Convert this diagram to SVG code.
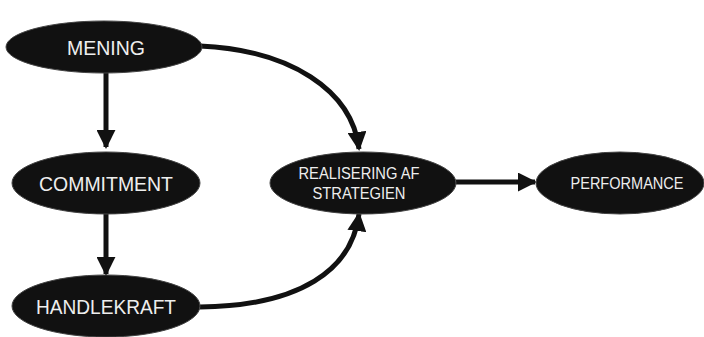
<svg xmlns="http://www.w3.org/2000/svg" width="704" height="337" viewBox="0 0 704 337">
<defs>
<style>
.node{fill:#111;stroke:#444;stroke-width:1}
.t{fill:#eee;font-family:"Liberation Sans",Arial,sans-serif;text-anchor:middle;dominant-baseline:central}
.big{font-size:21px}
.sm{font-size:16.5px}
.c{fill:none;stroke:#111;stroke-width:5}
</style>
<marker id="ah" viewBox="0 0 10 10" refX="9" refY="5" markerWidth="3.8" markerHeight="3.8" orient="auto" markerUnits="strokeWidth">
<path d="M0,0 L10,5 L0,10 Z" fill="#111"/>
</marker>
</defs>
<rect width="704" height="337" fill="#fff"/>
<g id="connectors">
<path class="c" d="M106,72 L106,147" marker-end="url(#ah)"/>
<path class="c" d="M106,213 L106,274" marker-end="url(#ah)"/>
<path class="c" d="M200,46 C290,50 352,90 359,149" marker-end="url(#ah)"/>
<path class="c" d="M200,307 C300,306 352,270 359,214" marker-end="url(#ah)"/>
<path class="c" d="M456,182 L535,182" marker-end="url(#ah)"/>
</g>
<g id="mening"><ellipse class="node" cx="104" cy="47" rx="98" ry="26"/><text class="t big" x="106" y="47" textLength="78" lengthAdjust="spacingAndGlyphs">MENING</text></g>
<g id="commitment"><ellipse class="node" cx="106" cy="183" rx="94" ry="31"/><text class="t big" x="106" y="183" textLength="134" lengthAdjust="spacingAndGlyphs">COMMITMENT</text></g>
<g id="handlekraft"><ellipse class="node" cx="106" cy="306" rx="94" ry="31"/><text class="t big" x="106" y="306" textLength="140" lengthAdjust="spacingAndGlyphs">HANDLEKRAFT</text></g>
<g id="realisering"><ellipse class="node" cx="363" cy="183" rx="93" ry="31"/><text class="t sm" x="359" y="173" textLength="121" lengthAdjust="spacingAndGlyphs">REALISERING AF</text><text class="t sm" x="359" y="193" textLength="93" lengthAdjust="spacingAndGlyphs">STRATEGIEN</text></g>
<g id="performance"><ellipse class="node" cx="620" cy="183" rx="84" ry="31"/><text class="t sm" x="627" y="183" textLength="113" lengthAdjust="spacingAndGlyphs">PERFORMANCE</text></g>
</svg>
